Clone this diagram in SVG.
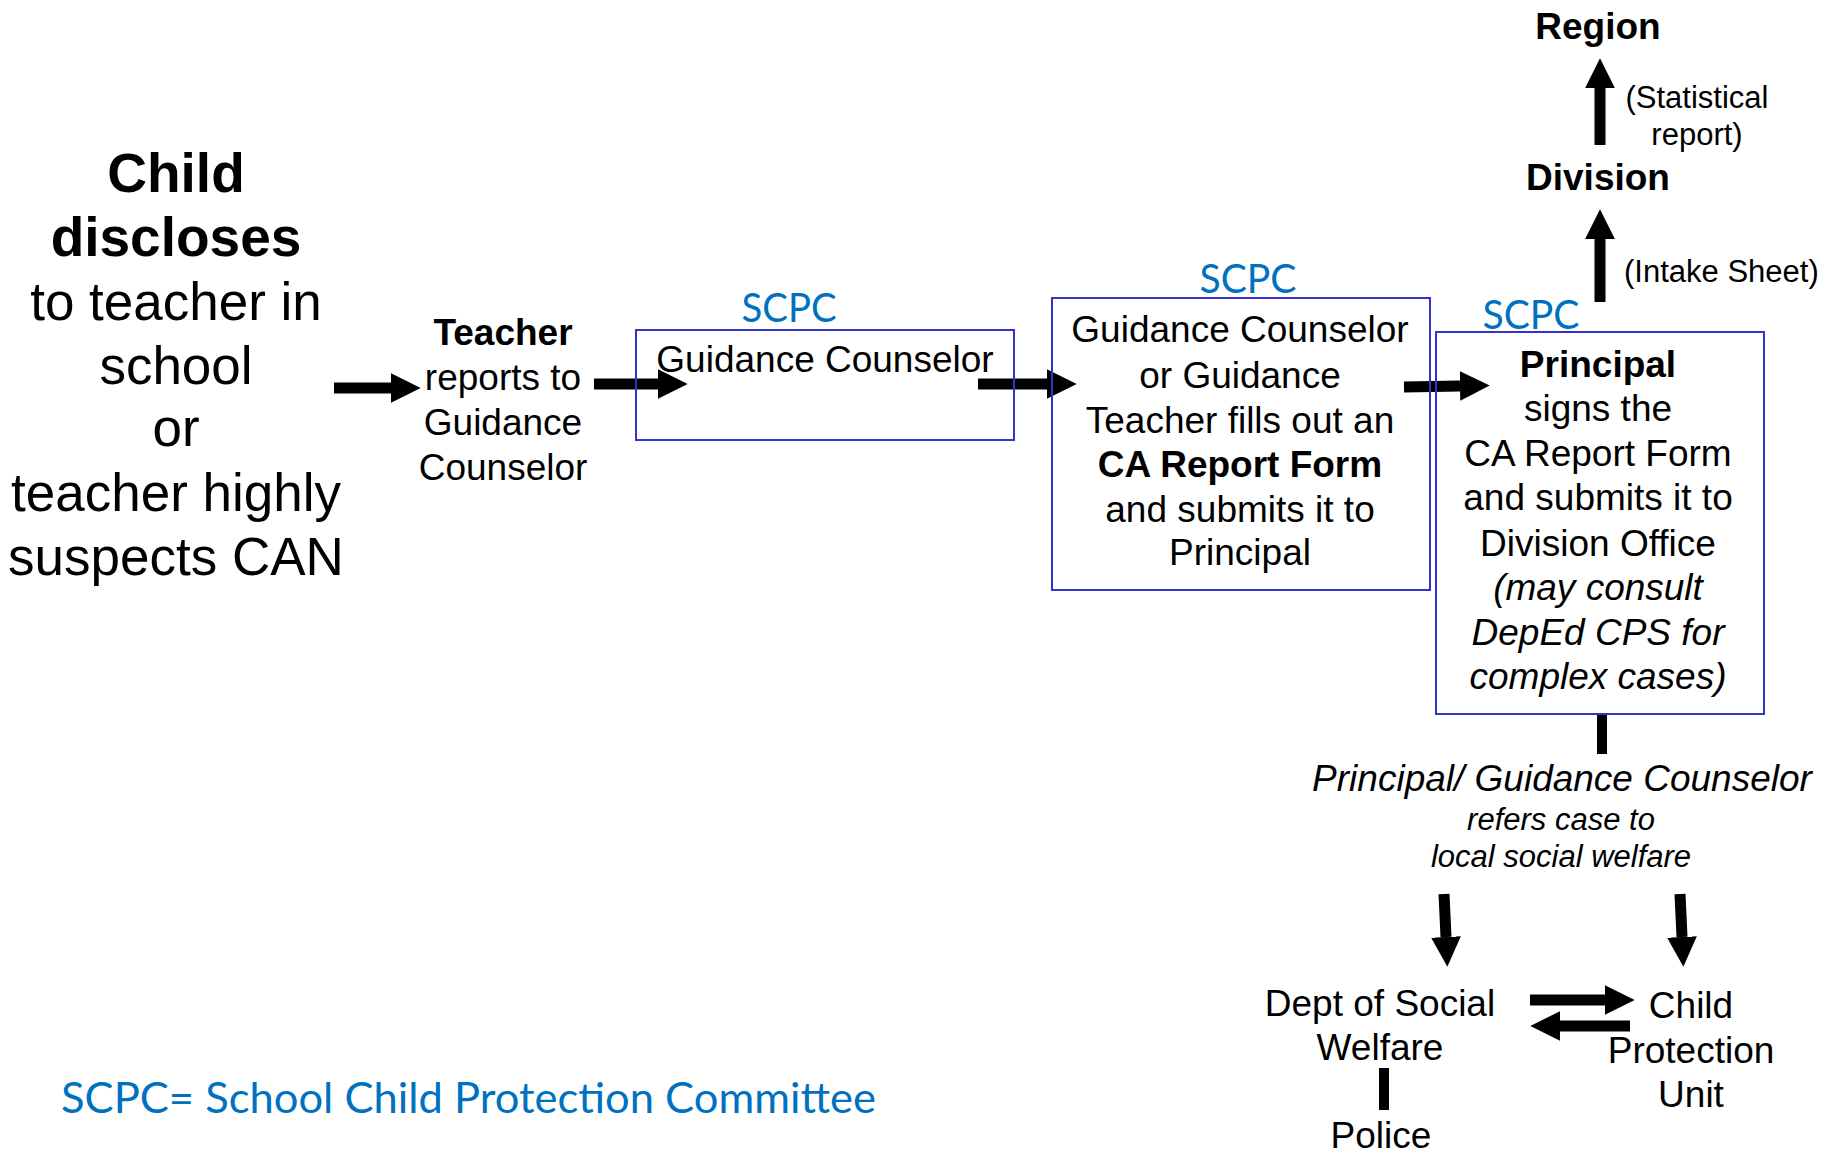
<svg xmlns="http://www.w3.org/2000/svg" width="1831" height="1153" viewBox="0 0 1831 1153">
<defs>
<style>
.t{font-family:"Liberation Sans",Arial,sans-serif;fill:#000;text-anchor:middle}
.b{font-weight:bold}
.i{font-style:italic}
.xl{font-size:53px}
.xlb{font-size:55px;font-weight:bold}
.m{font-size:37px}
.s{font-size:31px}
.blue{font-family:Lato,"Open Sans","Liberation Sans",sans-serif;fill:#0070C0}
.box{fill:none;stroke:#3333CC;stroke-width:2}
.arr{stroke:#000;stroke-width:11;fill:none;marker-end:url(#head)}
.bar{stroke:#000;stroke-width:10;fill:none}
</style>
<marker id="head" viewBox="0 0 10 10" refX="0" refY="5" markerWidth="2.7" markerHeight="2.7" orient="auto" markerUnits="strokeWidth">
<path d="M0,0 L10,5 L0,10 Z" fill="#000"/>
</marker>
</defs>
<rect width="1831" height="1153" fill="#fff"/>

<g id="connectors">
<line class="arr" x1="334" y1="388" x2="391" y2="388"/>
<line class="arr" x1="594" y1="384" x2="658" y2="384"/>
<line class="arr" x1="978" y1="384" x2="1047" y2="384"/>
<line class="arr" x1="1404" y1="387" x2="1460" y2="386"/>
<line class="arr" x1="1600" y1="302" x2="1600" y2="239"/>
<line class="arr" x1="1600" y1="145" x2="1600" y2="88"/>
<line class="bar" x1="1602" y1="713" x2="1602" y2="754"/>
<line class="arr" x1="1444" y1="894" x2="1446" y2="937"/>
<line class="arr" x1="1680" y1="894" x2="1682" y2="937"/>
<line class="arr" x1="1530" y1="1000" x2="1605" y2="1000"/>
<line class="arr" x1="1630" y1="1026" x2="1560" y2="1026"/>
<line class="bar" x1="1384" y1="1068" x2="1384" y2="1110"/>
</g>

<g id="child-discloses">
<text class="t xlb" x="176" y="192">Child</text>
<text class="t xlb" x="176" y="256">discloses</text>
<text class="t xl" x="176" y="320">to teacher in</text>
<text class="t xl" x="176" y="384">school</text>
<text class="t xl" x="176" y="446">or</text>
<text class="t xl" x="176" y="511">teacher highly</text>
<text class="t xl" x="176" y="575">suspects CAN</text>
</g>

<g id="teacher">
<text class="t m b" x="503" y="345">Teacher</text>
<text class="t m" x="503" y="390">reports to</text>
<text class="t m" x="503" y="435">Guidance</text>
<text class="t m" x="503" y="480">Counselor</text>
</g>

<g id="scpc-guidance-counselor">
<text class="blue" x="789" y="322" font-size="40" text-anchor="middle" textLength="95" lengthAdjust="spacingAndGlyphs">SCPC</text>
<rect class="box" x="636" y="330" width="378" height="110"/>
<text class="t m" x="825" y="372">Guidance Counselor</text>
</g>

<g id="scpc-report-form">
<text class="blue" x="1248" y="293" font-size="40" text-anchor="middle" textLength="97" lengthAdjust="spacingAndGlyphs">SCPC</text>
<rect class="box" x="1052" y="298" width="378" height="292"/>
<text class="t m" x="1240" y="342">Guidance Counselor</text>
<text class="t m" x="1240" y="388">or Guidance</text>
<text class="t m" x="1240" y="433">Teacher fills out an</text>
<text class="t m b" x="1240" y="477">CA Report Form</text>
<text class="t m" x="1240" y="522">and submits it to</text>
<text class="t m" x="1240" y="565">Principal</text>
</g>

<g id="scpc-principal">
<text class="blue" x="1531" y="329" font-size="40" text-anchor="middle" textLength="97" lengthAdjust="spacingAndGlyphs">SCPC</text>
<rect class="box" x="1436" y="332" width="328" height="382"/>
<text class="t m b" x="1598" y="377">Principal</text>
<text class="t m" x="1598" y="421">signs the</text>
<text class="t m" x="1598" y="466">CA Report Form</text>
<text class="t m" x="1598" y="510">and submits it to</text>
<text class="t m" x="1598" y="556">Division Office</text>
<text class="t m i" x="1598" y="600">(may consult</text>
<text class="t m i" x="1598" y="645">DepEd CPS for</text>
<text class="t m i" x="1598" y="689">complex cases)</text>
</g>

<g id="division">
<text class="t m b" x="1598" y="190">Division</text>
<text class="t s" x="1624" y="282" text-anchor="start" style="text-anchor:start">(Intake  Sheet)</text>
</g>

<g id="region">
<text class="t m b" x="1598" y="39">Region</text>
<text class="t s" x="1697" y="108">(Statistical</text>
<text class="t s" x="1697" y="145">report)</text>
</g>

<g id="referral">
<text class="t m i" x="1562" y="791">Principal/ Guidance Counselor</text>
<text class="t s i" x="1561" y="830">refers case to</text>
<text class="t s i" x="1561" y="867">local social welfare</text>
</g>

<g id="dswd">
<text class="t m" x="1380" y="1016">Dept of Social</text>
<text class="t m" x="1380" y="1060">Welfare</text>
</g>

<g id="cpu">
<text class="t m" x="1691" y="1018">Child</text>
<text class="t m" x="1691" y="1063">Protection</text>
<text class="t m" x="1691" y="1107">Unit</text>
</g>

<g id="police">
<text class="t m" x="1381" y="1148">Police</text>
</g>

<g id="legend">
<text class="blue" x="61" y="1113" font-size="43" textLength="815" lengthAdjust="spacingAndGlyphs">SCPC= School Child Protection Committee</text>
</g>
</svg>
